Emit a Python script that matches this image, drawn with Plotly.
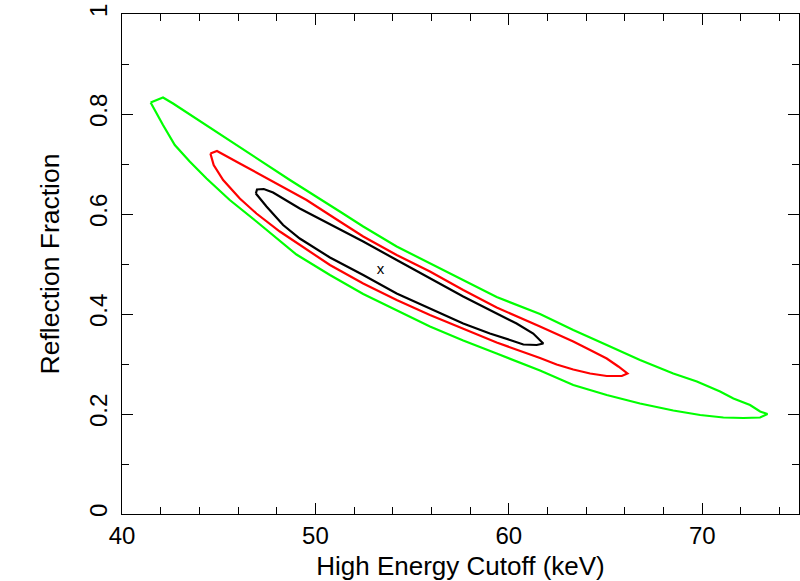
import plotly.graph_objects as go

# Contour levels (High Energy Cutoff keV, Reflection Fraction)
green_x = [41.48, 42.12, 42.64, 43.67, 46.09, 48.68, 51.26, 52.47, 54.20, 55.92, 57.64, 59.37,
           61.61, 63.33, 65.06, 66.78, 68.50, 69.72, 70.92, 71.61, 72.47, 72.99, 73.37,
           72.99, 72.13, 71.09, 69.89, 68.50, 66.78, 65.06, 63.33, 61.61, 59.37,
           57.64, 55.92, 54.20, 52.47, 50.75, 49.02, 46.95, 45.57, 44.37, 43.50, 42.73,
           42.12, 41.48]
green_y = [0.823, 0.833, 0.821, 0.795, 0.735, 0.668, 0.605, 0.575, 0.535, 0.501, 0.468, 0.434,
           0.400, 0.368, 0.338, 0.308, 0.281, 0.265, 0.245, 0.231, 0.218, 0.205, 0.200,
           0.193, 0.192, 0.193, 0.198, 0.207, 0.221, 0.238, 0.258, 0.287, 0.321,
           0.347, 0.375, 0.408, 0.440, 0.478, 0.519, 0.585, 0.628, 0.671, 0.705, 0.738,
           0.778, 0.823]

red_x = [44.57, 44.91, 46.09, 47.81, 49.54, 51.26, 52.47, 54.20, 55.92, 57.64, 59.37, 61.61,
         62.64, 63.33, 64.20, 65.06, 65.66, 66.13,
         65.84, 65.06, 64.20, 63.33, 62.47, 61.61, 59.37, 57.64, 55.92, 54.20, 52.47, 50.75,
         49.88, 48.16, 46.95, 46.09, 45.23, 44.74, 44.57]
red_y = [0.721, 0.726, 0.701, 0.665, 0.628, 0.585, 0.555, 0.518, 0.485, 0.448, 0.413, 0.375,
         0.358, 0.345, 0.328, 0.311, 0.295, 0.281,
         0.276, 0.276, 0.281, 0.289, 0.299, 0.312, 0.343, 0.370, 0.398, 0.428, 0.461, 0.498,
         0.521, 0.565, 0.601, 0.631, 0.668, 0.698, 0.721]

black_x = [46.92, 46.98, 47.33, 47.81, 49.19, 50.75, 52.47, 54.20, 55.92, 57.64, 59.37, 60.40,
           61.26, 61.78,
           61.44, 60.75, 60.06, 59.02, 57.64, 55.92, 54.20, 52.47, 50.75, 49.19, 48.33, 47.47,
           46.92]
black_y = [0.641, 0.649, 0.650, 0.643, 0.611, 0.580, 0.545, 0.508, 0.471, 0.435, 0.401, 0.381,
           0.361, 0.341,
           0.338, 0.339, 0.348, 0.361, 0.381, 0.411, 0.441, 0.478, 0.513, 0.551, 0.578, 0.615,
           0.641]

best_x = [53.36]
best_y = [0.487]

x_ticks = [40, 50, 60, 70]
y_ticks = [0, 0.2, 0.4, 0.6, 0.8, 1]
y_ticklabels = ["0", "0.2", "0.4", "0.6", "0.8", "1"]

FONT = "Liberation Sans, Arial, Helvetica, sans-serif"

fig = go.Figure()
fig.add_trace(go.Scatter(x=green_x, y=green_y, mode="lines",
                         line=dict(color="#00ff00", width=2.2), showlegend=False))
fig.add_trace(go.Scatter(x=red_x, y=red_y, mode="lines",
                         line=dict(color="#ff0000", width=2.2), showlegend=False))
fig.add_trace(go.Scatter(x=black_x, y=black_y, mode="lines",
                         line=dict(color="#000000", width=2.2), showlegend=False))
fig.add_trace(go.Scatter(x=best_x, y=best_y, mode="text", text=["x"],
                         textfont=dict(family=FONT, size=15, color="black"),
                         textposition="middle center", showlegend=False))

axis_common = dict(
    showgrid=False, zeroline=False, showline=True, linecolor="black", linewidth=1.2,
    mirror="ticks", ticks="inside", ticklen=11, tickwidth=1.2, tickcolor="black",
    tickfont=dict(family=FONT, size=24, color="black"),
)

fig.update_xaxes(
    range=[40, 75], tickvals=x_ticks,
    minor=dict(dtick=2, tick0=40, ticks="inside", ticklen=7, tickwidth=1.2, tickcolor="black"),
    title=dict(text="High Energy Cutoff (keV)", font=dict(family=FONT, size=26, color="black"),
               standoff=8),
    **axis_common,
)
fig.update_yaxes(
    range=[0, 1], tickvals=y_ticks, ticktext=y_ticklabels, tickangle=-90,
    ticklabelstandoff=4,
    minor=dict(dtick=0.1, tick0=0, ticks="inside", ticklen=7, tickwidth=1.2, tickcolor="black"),
    title=dict(text="Reflection Fraction", font=dict(family=FONT, size=26.5, color="black"),
               standoff=18),
    **axis_common,
)

fig.update_layout(
    width=800, height=581,
    margin=dict(l=122, r=1, t=14, b=67, autoexpand=False),
    plot_bgcolor="white", paper_bgcolor="white",
)

fig.write_html("out.html", config={"displayModeBar": False},
               post_script="document.body.style.margin='0px';")
